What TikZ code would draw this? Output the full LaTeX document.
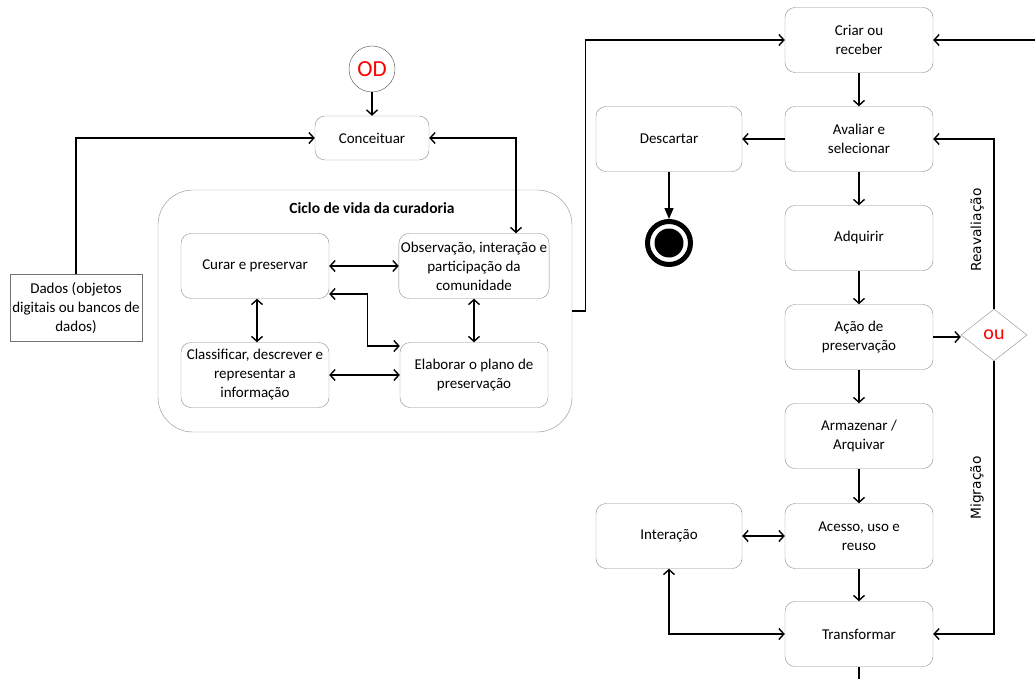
\documentclass[tikz,border=0pt]{standalone}
\usepackage{fontspec}
\setmainfont{Carlito}
\newfontfamily\sidefont{DejaVu Sans}
\usetikzlibrary{arrows.meta,shapes.geometric,calc}
\tikzset{%
	% Style of the activity box
	Activity/.style={draw=black!45,rounded corners=10,minimum width=148,minimum height=65,align=center,inner sep=2},
	% Style of the data box
	DataBox/.style={draw=black!55,minimum width=132,minimum height=67,align=center,inner sep=2},
	% Style of the group box
	Group/.style={draw=black!45,rounded corners=35,minimum width=414,minimum height=242},
	% Style of the start state
	StartState/.style={circle,draw=black!70,minimum size=46,inner sep=0,text=red,font=\fontsize{23}{24}\selectfont},
	% Style of the end state
	EndState/.style={circle,draw=black,line width=5,minimum size=43,inner sep=0},
	% Style of the choice
	Choice/.style={diamond,draw=black!45,minimum width=66,minimum height=52,inner sep=0,text=red,font=\fontsize{20}{21}\selectfont},
	% Style of the side label
	SideName/.style={rotate=90,font=\sidefont\fontsize{13.8}{15}\selectfont},
	% Style of the branch
	Connection/.style={line width=1.4,-{Straight Barb[length=5pt,width=11pt]}},
	BothWays/.style={line width=1.4,{Straight Barb[length=5pt,width=11pt]}-{Straight Barb[length=5pt,width=11pt]}},
}

\begin{document}
\begin{tikzpicture}[x=1pt,y=-1pt,font=\fontsize{15}{19}\selectfont] % STYLES
\useasboundingbox (0,0) rectangle (1035,679);

%~~~~~~~~~~~~~~~~~~~~~~~~~~~~~~~~~~~~~~~~~~~~~~~~~~
% Set Nodes
%~~~~~~~~~~~~~~~~~~~~~~~~~~~~~~~~~~~~~~~~~~~~~~~~~~
\node[StartState] (OD) at (372, 69) {OD};
\node[Activity, minimum width=114, minimum height=44] (Conceituar) at (372, 138) {Conceituar};
\node[DataBox] (Dados) at (76, 308) {Dados (objetos\\digitais ou bancos de\\dados)};

\node[Group] (Ciclo) at (365, 311) {};
\node[font=\bfseries\fontsize{15.5}{17}\selectfont] (CicloName) at (372, 208) {Ciclo de vida da curadoria};
\node[Activity] (Curar) at (255, 266) {Curar e preservar};
\node[Activity] (Observacao) at (474, 266) {Observação, interação e\\participação da\\comunidade};
\node[Activity] (Classificar) at (255, 375) {Classificar, descrever e\\representar a\\informação};
\node[Activity] (Elaborar) at (474, 375) {Elaborar o plano de\\preservação};

\node[Activity] (Criar) at (859, 40) {Criar ou\\receber};
\node[Activity] (Avaliar) at (859, 139) {Avaliar e\\selecionar};
\node[Activity] (Adquirir) at (859, 238) {Adquirir};
\node[Activity] (Acao) at (859, 337) {Ação de\\preservação};
\node[Activity] (Armazenar) at (859, 436) {Armazenar /\\Arquivar};
\node[Activity] (Acesso) at (859, 536) {Acesso, uso e\\reuso};
\node[Activity] (Transformar) at (859, 634) {Transformar};

\node[Activity, minimum width=146] (Descartar) at (669, 139) {Descartar};
\node[EndState] (End) at (669, 243) {};
\fill (End) circle (14.5);
\node[Activity, minimum width=146] (Interacao) at (669, 536) {Interação};

\node[Choice] (Ou) at (994, 335) {ou};
\node[SideName] at (977, 230) {Reavaliação};
\node[SideName] at (977, 488) {Migração};

\coordinate (RightIn) at (1035, 40);
\coordinate (BottomOut) at (859, 679);

%~~~~~~~~~~~~~~~~~~~~~~~~~~~~~~~~~~~~~~~~~~~~~~~~~~
% Set Branches
%~~~~~~~~~~~~~~~~~~~~~~~~~~~~~~~~~~~~~~~~~~~~~~~~~~
%Branches of the conception
\draw[Connection] (OD) -- (Conceituar);
\draw[Connection] (Dados.north) |- (Conceituar.west);
\draw[BothWays] (Conceituar.east) -| ([xshift=42]Observacao.north);

%Branches inside the cycle
\draw[BothWays] (Curar.east) -- (Observacao.west);
\draw[BothWays] ([xshift=2]Curar.south) -- ([xshift=2]Classificar.north);
\draw[BothWays] (Observacao.south) -- (Elaborar.north);
\draw[BothWays] (Classificar.east) -- (Elaborar.west);
\draw[BothWays] ([yshift=-28]Curar.east) -- ++(38,0) |- ([yshift=29]Elaborar.west);

%Branches to the life cycle
\draw[Connection] (Ciclo.east) -- ++(13,0) |- (Criar.west);
\draw[Connection] (RightIn) -- (Criar.east);
\draw[Connection] (Criar) -- (Avaliar);
\draw[Connection] (Avaliar) -- (Descartar);
\draw[line width=1.4,-{Triangle[length=11pt,width=9pt]}] (Descartar) -- (End);
\draw[Connection] (Avaliar) -- (Adquirir);
\draw[Connection] (Adquirir) -- (Acao);
\draw[Connection] (Acao) -- (Armazenar);
\draw[Connection] (Armazenar) -- (Acesso);
\draw[Connection] (Acesso) -- (Transformar);
\draw[line width=1.4] (Transformar) -- (BottomOut);

%Branches of the choice
\draw[Connection] (Acao.east) -- (Acao.east -| Ou.west);
\draw[Connection] (Ou.north) |- (Avaliar.east);
\draw[Connection] (Ou.south) |- (Transformar.east);

%Branches of the interaction
\draw[BothWays] (Interacao) -- (Acesso);
\draw[BothWays] (Interacao.south) |- (Transformar.west);

\end{tikzpicture}
\end{document}
